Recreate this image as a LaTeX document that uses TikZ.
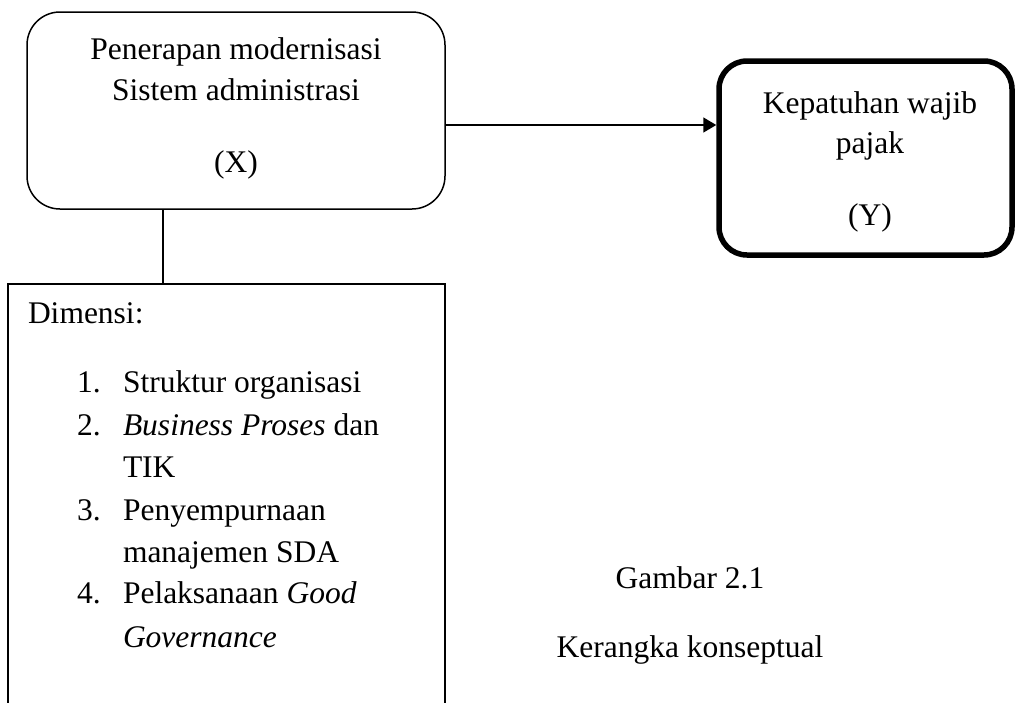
\documentclass[tikz,border=0pt]{standalone}
\usepackage{fontspec}
\setmainfont{Liberation Serif}
\usetikzlibrary{arrows.meta}
\tikzset{
  txt/.style={inner sep=0pt, outer sep=0pt, font=\fontsize{31.5}{42}\selectfont},
  boxx/.style={draw, rounded corners=33pt, line width=1.5pt, minimum width=418pt, minimum height=197pt, inner sep=0pt},
  boxy/.style={draw, rounded corners=28pt, line width=5.5pt, minimum width=293pt, minimum height=194pt, inner sep=0pt},
  boxd/.style={draw, line width=1.8pt, minimum width=437pt, minimum height=446pt, inner sep=0pt},
  conn/.style={line width=1.6pt},
  arr/.style={line width=1.6pt, -{Triangle[length=13pt,width=15pt]}}
}
\begin{document}
\begin{tikzpicture}[x=1pt,y=-1pt]
\clip (0,0) rectangle (1017,702);
\useasboundingbox (0,0) rectangle (1017,702);
% boxes
\node[boxx] (X) at (236,110.5) {};
\node[boxy] (Y) at (865.5,158) {};
\node[boxd] (D) at (226.5,507) {};
% box X text
\node[txt, anchor=base] (x1) at (236,59) {Penerapan modernisasi};
\node[txt, anchor=base] (x2) at (236,100) {Sistem administrasi};
\node[txt, anchor=base] (x3) at (236,172) {(X)};
% box Y text
\node[txt, anchor=base] (y1) at (870,113) {Kepatuhan wajib};
\node[txt, anchor=base] (y2) at (870,153) {pajak};
\node[txt, anchor=base] (y3) at (870,225) {(Y)};
% dimensions
\node[txt, anchor=base west] (dim) at (28,323) {Dimensi:};
\node[txt, anchor=base west] (n1) at (77,392) {1.};
\node[txt, anchor=base west] (t1) at (123,392) {Struktur organisasi};
\node[txt, anchor=base west] (n2) at (77,435) {2.};
\node[txt, anchor=base west] (t2) at (123,435) {\textit{Business Proses} dan};
\node[txt, anchor=base west] (t2b) at (123,477) {TIK};
\node[txt, anchor=base west] (n3) at (77,520) {3.};
\node[txt, anchor=base west] (t3) at (123,520) {Penyempurnaan};
\node[txt, anchor=base west] (t3b) at (123,562) {manajemen SDA};
\node[txt, anchor=base west] (n4) at (77,603) {4.};
\node[txt, anchor=base west] (t4) at (123,603) {Pelaksanaan \textit{Good}};
\node[txt, anchor=base west] (t4b) at (123,647) {\textit{Governance}};
% caption
\node[txt, anchor=base] (cap1) at (690,588) {Gambar 2.1};
\node[txt, anchor=base] (cap2) at (690,657) {Kerangka konseptual};
% connectors
\draw[arr] ([yshift=-14.5pt]X.east) -- ([yshift=-14.5pt]X.east -| Y.west);
\draw[conn] ([xshift=-73pt]X.south) -- ([xshift=-73pt]X.south |- D.north);
\end{tikzpicture}
\end{document}
